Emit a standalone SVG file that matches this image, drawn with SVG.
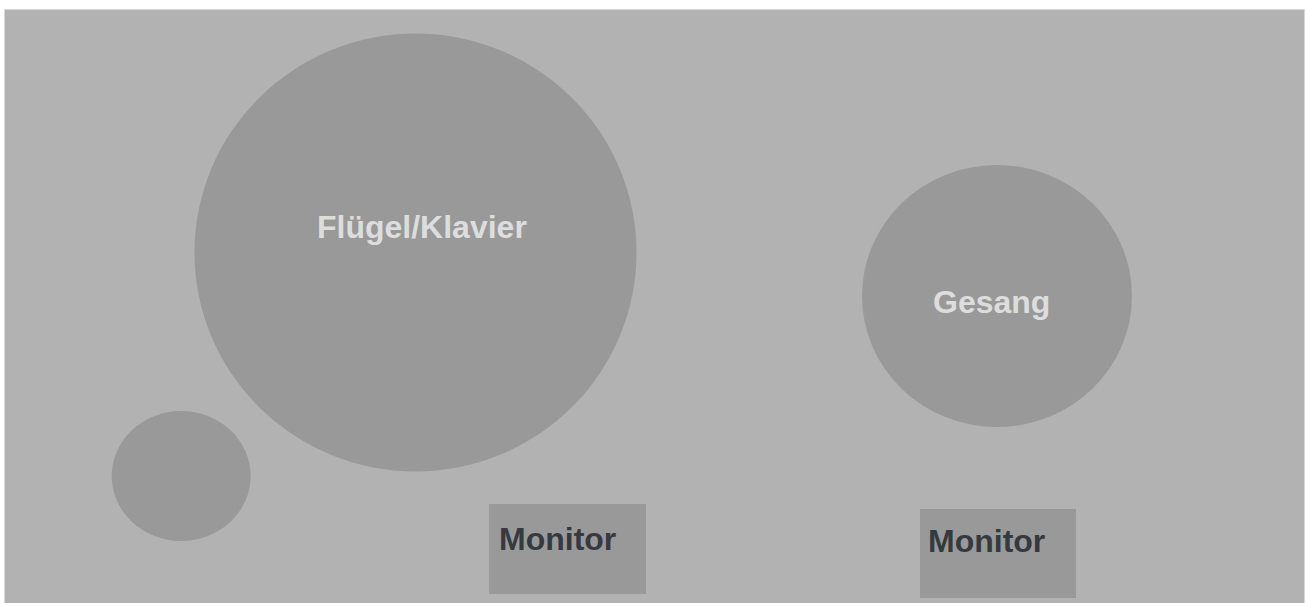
<svg xmlns="http://www.w3.org/2000/svg" width="1305" height="603" viewBox="0 0 1305 603">
<style>
  .shape { fill: #999999; }
  .light { font-family: "Liberation Sans", Arial, sans-serif; font-weight: bold; font-size: 32px; fill: #dddddd; }
  .dark { font-family: "Liberation Sans", Arial, sans-serif; font-weight: bold; font-size: 32px; fill: #343a40; }
</style>
<rect x="0" y="0" width="1305" height="603" fill="#ffffff"/>
<rect id="stage" x="4.5" y="9.5" width="1300" height="600" fill="#b2b2b2" stroke="#d8d8d8" stroke-width="1"/>
<g id="connectors"></g>
<g id="node-fluegel">
  <ellipse class="shape" cx="415.5" cy="252.5" rx="221" ry="219"/>
  <text class="light" x="317" y="238">Flügel/Klavier</text>
</g>
<g id="node-gesang">
  <ellipse class="shape" cx="997" cy="296" rx="135" ry="131"/>
  <text class="light" x="933" y="313">Gesang</text>
</g>
<g id="node-small">
  <ellipse class="shape" cx="181.2" cy="476" rx="69.5" ry="65"/>
</g>
<g id="node-monitor1">
  <rect class="shape" x="489" y="504" width="157" height="90"/>
  <text class="dark" x="499" y="550">Monitor</text>
</g>
<g id="node-monitor2">
  <rect class="shape" x="920" y="509" width="156" height="89"/>
  <text class="dark" x="928" y="552">Monitor</text>
</g>
</svg>
